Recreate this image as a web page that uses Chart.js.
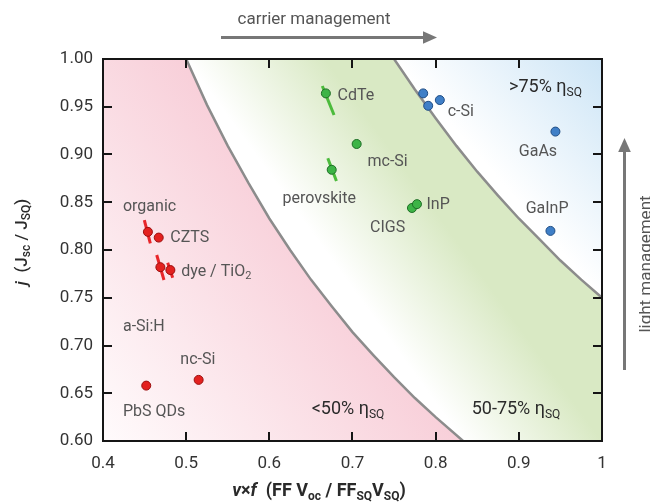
<!DOCTYPE html>
<html>
<head>
<meta charset="utf-8">
<script src="https://cdn.jsdelivr.net/npm/chart.js@4.4.1/dist/chart.umd.min.js"></script>
<style>
  html, body { margin: 0; padding: 0; background: #fff; }
  canvas { display: block; }
</style>
</head>
<body>
<canvas id="chart" width="650" height="502"></canvas>
<script>
// Tick marks and labels
const xTickValues = [0.4, 0.5, 0.6, 0.7, 0.8, 0.9, 1.0];
const xTickLabels = ['0.4', '0.5', '0.6', '0.7', '0.8', '0.9', '1'];
const yTickValues = [0.6, 0.65, 0.7, 0.75, 0.8, 0.85, 0.9, 0.95, 1.0];
const yTickLabels = ['0.60', '0.65', '0.70', '0.75', '0.80', '0.85', '0.90', '0.95', '1.00'];

// Iso-efficiency boundaries (50 % and 75 % of SQ limit)
const curve50X = [0.500, 0.525, 0.550, 0.575, 0.600, 0.625, 0.650, 0.675, 0.700, 0.725, 0.750, 0.775, 0.800, 0.833];
const curve50Y = [1.000, 0.952, 0.909, 0.870, 0.833, 0.800, 0.769, 0.741, 0.714, 0.690, 0.667, 0.645, 0.625, 0.600];
const curve75X = [0.750, 0.775, 0.800, 0.825, 0.850, 0.875, 0.900, 0.925, 0.950, 0.975, 1.000];
const curve75Y = [1.000, 0.968, 0.938, 0.909, 0.882, 0.857, 0.833, 0.811, 0.789, 0.769, 0.750];

// Cells: organic, CZTS, a-Si:H, dye/TiO2, nc-Si, PbS QDs
const redX = [0.454, 0.467, 0.469, 0.481, 0.515, 0.452];
const redY = [0.819, 0.813, 0.782, 0.779, 0.664, 0.658];
// CdTe, mc-Si, perovskite, CIGS, InP
const greenX = [0.668, 0.705, 0.675, 0.7715, 0.7775];
const greenY = [0.964, 0.911, 0.884, 0.844, 0.848];
// c-Si (x3), GaAs, GaInP
const blueX = [0.785, 0.791, 0.805, 0.944, 0.938];
const blueY = [0.964, 0.951, 0.957, 0.924, 0.820];

// Spread bars [x1, y1, x2, y2]
const redBars = [
  [0.4497, 0.8314, 0.4569, 0.8070],
  [0.4646, 0.7948, 0.4733, 0.7686],
  [0.4778, 0.7867, 0.4838, 0.7710],
];
const greenBars = [
  [0.6637, 0.9717, 0.6778, 0.9414],
  [0.6703, 0.8960, 0.6807, 0.8723],
];

// Text annotations: text, x, y, align (in data units); _{..} subscript, *..* italic
const pointLabels = [
  ['organic', 0.424, 0.847, 'left'],
  ['CZTS', 0.481, 0.814, 'left'],
  ['dye / TiO_{2}', 0.494, 0.779, 'left'],
  ['a-Si:H', 0.424, 0.7215, 'left'],
  ['nc-Si', 0.514, 0.687, 'center'],
  ['PbS QDs', 0.424, 0.6325, 'left'],
  ['CdTe', 0.682, 0.963, 'left'],
  ['mc-Si', 0.718, 0.894, 'left'],
  ['perovskite', 0.660, 0.855, 'center'],
  ['InP', 0.789, 0.849, 'left'],
  ['CIGS', 0.721, 0.825, 'left'],
  ['c-Si', 0.8145, 0.9466, 'left'],
  ['GaAs', 0.923, 0.904, 'center'],
  ['GaInP', 0.934, 0.8443, 'center'],
];
const regionLabels = [
  ['>75% η_{SQ}', 0.932, 0.972],
  ['<50% η_{SQ}', 0.6946, 0.6346],
  ['50-75% η_{SQ}', 0.8966, 0.6346],
];

const FONT = "Roboto, 'Liberation Sans', sans-serif";
const GREY_LINE = '#8c8c8c';

const pts = (xs, ys) => xs.map((x, i) => ({ x, y: ys[i] }));

// gradient running perpendicular to the line a-b, from its foot on the line (line colour) to point p
function perpGradient(chart, a, b, p, lineColor, farColor) {
  const { x, y } = chart.scales;
  const A = [x.getPixelForValue(a[0]), y.getPixelForValue(a[1])];
  const B = [x.getPixelForValue(b[0]), y.getPixelForValue(b[1])];
  const P = [x.getPixelForValue(p[0]), y.getPixelForValue(p[1])];
  const dx = B[0] - A[0], dy = B[1] - A[1];
  const t = ((P[0] - A[0]) * dx + (P[1] - A[1]) * dy) / (dx * dx + dy * dy);
  const Q = [A[0] + t * dx, A[1] + t * dy];
  const g = chart.ctx.createLinearGradient(Q[0], Q[1], P[0], P[1]);
  g.addColorStop(0, lineColor);
  g.addColorStop(1, farColor);
  return g;
}

function parseRich(str) {
  const out = [];
  str.split(/(_\{[^}]*\}|\*[^*]*\*)/).forEach(tok => {
    if (!tok) return;
    if (tok.startsWith('_{')) out.push({ t: tok.slice(2, -1), sub: true });
    else if (tok.startsWith('*')) out.push({ t: tok.slice(1, -1), it: true });
    else out.push({ t: tok });
  });
  return out;
}

function drawRich(ctx, str, x, y, size, align, color, weight) {
  const parts = parseRich(str);
  const fontOf = p => `${p.it ? 'italic ' : ''}${weight || 'normal'} ${p.sub ? Math.round(size * 0.68) : size}px ${FONT}`;
  let w = 0;
  parts.forEach(p => { ctx.font = fontOf(p); p.w = ctx.measureText(p.t).width; w += p.w; });
  let cx = align === 'center' ? x - w / 2 : align === 'right' ? x - w : x;
  ctx.fillStyle = color;
  ctx.textBaseline = 'alphabetic';
  ctx.textAlign = 'left';
  const base = y + size * 0.35;
  parts.forEach(p => {
    ctx.font = fontOf(p);
    ctx.fillText(p.t, cx, p.sub ? base + size * 0.2 : base);
    cx += p.w;
  });
}

function arrow(ctx, x1, y1, x2, y2, head) {
  const ang = Math.atan2(y2 - y1, x2 - x1);
  const cos = Math.cos(ang), sin = Math.sin(ang);
  ctx.beginPath();
  ctx.moveTo(x1, y1);
  ctx.lineTo(x2 - cos * head, y2 - sin * head);
  ctx.stroke();
  ctx.beginPath();
  ctx.moveTo(x2, y2);
  ctx.lineTo(x2 - cos * head - sin * head * 0.45, y2 - sin * head + cos * head * 0.45);
  ctx.lineTo(x2 - cos * head + sin * head * 0.45, y2 - sin * head - cos * head * 0.45);
  ctx.closePath();
  ctx.fill();
}

// plot frame with inward ticks on all four sides
function drawFrame(chart) {
  const { ctx, chartArea: area, scales } = chart;
  const L = Math.round(area.left), R = Math.round(area.right);
  const T = Math.round(area.top), Bt = Math.round(area.bottom);
  ctx.save();
  ctx.fillStyle = '#151515';
  ctx.fillRect(L - 1, T - 1, R - L + 2, 2);
  ctx.fillRect(L - 1, Bt - 1, R - L + 2, 2);
  ctx.fillRect(L - 1, T - 1, 2, Bt - T + 2);
  ctx.fillRect(R - 1, T - 1, 2, Bt - T + 2);
  xTickValues.slice(1, -1).forEach(v => {
    const px = Math.round(scales.x.getPixelForValue(v));
    ctx.fillRect(px - 1, Bt - 9, 2, 9);
    ctx.fillRect(px - 1, T, 2, 9);
  });
  yTickValues.slice(1, -1).forEach(v => {
    const py = Math.round(scales.y.getPixelForValue(v));
    ctx.fillRect(L, py - 1, 9, 2);
    ctx.fillRect(R - 9, py - 1, 9, 2);
  });
  ctx.restore();
}

const decorPlugin = {
  id: 'decor',
  afterDraw(chart) {
    const { ctx, scales: { x, y } } = chart;
    drawFrame(chart);
    ctx.save();
    // labels
    pointLabels.forEach(([t, vx, vy, al]) => {
      drawRich(ctx, t, x.getPixelForValue(vx), y.getPixelForValue(vy), 16, al, '#555');
    });
    regionLabels.forEach(([t, vx, vy]) => {
      drawRich(ctx, t, x.getPixelForValue(vx), y.getPixelForValue(vy), 18, 'center', '#2a2a2a');
    });

    // axis titles
    drawRich(ctx, '*v*×*f*  (FF V_{oc} / FF_{SQ}V_{SQ})', 319, 490, 18, 'center', '#2a2a2a', 'bold');
    ctx.save();
    ctx.translate(21, 242);
    ctx.rotate(-Math.PI / 2);
    drawRich(ctx, '*j*  (J_{sc} / J_{SQ})', 0, 0, 17, 'center', '#2a2a2a', '500');
    ctx.restore();

    // management arrows
    ctx.strokeStyle = '#777';
    ctx.fillStyle = '#777';
    ctx.lineWidth = 3;
    arrow(ctx, 221, 37.5, 437, 37.5, 14);
    arrow(ctx, 624.5, 370, 624.5, 138, 14);
    drawRich(ctx, 'carrier management', 314, 18, 17, 'center', '#555');
    ctx.save();
    ctx.translate(645, 264);
    ctx.rotate(-Math.PI / 2);
    drawRich(ctx, 'light management', 0, 0, 17, 'center', '#555');
    ctx.restore();
    ctx.restore();
  }
};

const barDatasets = (bars, color) => bars.map(b => ({
  data: [{ x: b[0], y: b[1] }, { x: b[2], y: b[3] }],
  borderColor: color, borderWidth: 3, pointRadius: 0, fill: false, order: 2,
}));

const pointSet = (xs, ys, fillC, edge) => ({
  data: pts(xs, ys), showLine: false,
  pointRadius: 4.5, pointBackgroundColor: fillC, pointBorderColor: edge, pointBorderWidth: 1,
  order: 1,
});

new Chart(document.getElementById('chart'), {
  type: 'line',
  data: {
    datasets: [
      // regions
      {
        data: [{ x: 0.4, y: 1.0 }, ...pts(curve75X, curve75Y)],
        borderWidth: 0, pointRadius: 0, fill: 'start', order: 6,
        backgroundColor: c => c.chart.chartArea ? perpGradient(c.chart, [0.5, 1.0], [0.833, 0.6], [1.0, 0.6], '#ffffff', '#d9e9c4') : '#e4efd5',
      },
      {
        data: pts(curve75X, curve75Y),
        borderWidth: 0, pointRadius: 0, fill: 'end', order: 5,
        backgroundColor: c => c.chart.chartArea ? perpGradient(c.chart, [0.75, 1.0], [1.0, 0.75], [1.0, 1.0], '#ffffff', '#cde5f6') : '#e4f0f9',
      },
      {
        data: [{ x: 0.4, y: 1.0 }, ...pts(curve50X, curve50Y)],
        borderWidth: 0, pointRadius: 0, fill: 'start', order: 4,
        backgroundColor: c => c.chart.chartArea ? perpGradient(c.chart, [0.5, 1.0], [0.833, 0.6], [0.4, 0.6], '#f8cfd9', '#fffbfc') : '#f9dbe1',
      },
      // boundaries
      { data: pts(curve50X, curve50Y), borderColor: GREY_LINE, borderWidth: 2.5, pointRadius: 0, fill: false, order: 3 },
      { data: pts(curve75X, curve75Y), borderColor: GREY_LINE, borderWidth: 2.5, pointRadius: 0, fill: false, order: 3 },
      ...barDatasets(redBars, '#e8262a'),
      ...barDatasets(greenBars, '#4cbb3c'),
      pointSet(redX, redY, '#e3211f', '#9b0e0e'),
      pointSet(greenX, greenY, '#3db446', '#1d6e25'),
      pointSet(blueX, blueY, '#3f7fc7', '#1f4d85'),
    ]
  },
  options: {
    responsive: false,
    animation: false,
    layout: { padding: { top: 59, right: 48, left: 0, bottom: 0 } },
    plugins: { legend: { display: false }, tooltip: { enabled: false } },
    elements: { line: { tension: 0 } },
    scales: {
      x: {
        type: 'linear', min: 0.4, max: 1.0,
        afterBuildTicks: s => { s.ticks = xTickValues.map(v => ({ value: v })); },
        afterFit: s => { s.height = 61; },
        grid: { display: false, drawTicks: false },
        border: { display: false },
        ticks: { padding: 13, color: '#333', font: { family: FONT, size: 17 }, callback: (v, i) => xTickLabels[i] },
      },
      y: {
        type: 'linear', min: 0.6, max: 1.0,
        afterBuildTicks: s => { s.ticks = yTickValues.map(v => ({ value: v })); },
        afterFit: s => { s.width = 103; },
        grid: { display: false, drawTicks: false },
        border: { display: false },
        ticks: { padding: 10, color: '#333', font: { family: FONT, size: 17 }, callback: (v, i) => yTickLabels[i] },
      },
    },
  },
  plugins: [decorPlugin],
});
</script>
</body>
</html>
